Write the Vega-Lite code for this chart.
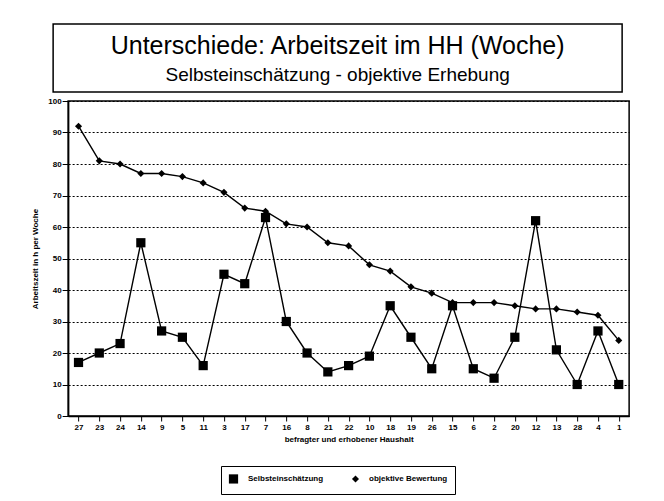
{
  "$schema": "https://vega.github.io/schema/vega-lite/v6.json",
  "padding": {"left": 31, "top": 23, "right": 5, "bottom": 5},
  "background": "white",
  "config": {
    "font": "Liberation Sans",
    "view": {"stroke": "black", "strokeWidth": 1.5},
    "axis": {"labelFont": "Liberation Sans", "titleFont": "Liberation Sans", "labelColor": "black", "titleColor": "black", "domainColor": "black", "tickColor": "black"},
    "legend": {"labelFont": "Liberation Sans", "layout": {"bottom": {"anchor": "middle"}}}
  },
  "center": true,
  "vconcat": [
    {
      "width": 569,
      "height": 68,
      "data": {"values": [
        {"zeile": "1", "text": "Unterschiede: Arbeitszeit im HH (Woche)"},
        {"zeile": "2", "text": "Selbsteinschätzung - objektive Erhebung"}
      ]},
      "encoding": {
        "y": {"field": "zeile", "type": "ordinal", "scale": {"type": "point", "domain": ["1", "2"], "padding": 0.672, "align": 0.564},
          "axis": {"orient": "right", "title": null, "labels": false, "ticks": false, "grid": false, "domain": true, "domainOpacity": 0, "offset": 22}},
        "text": {"field": "text"}
      },
      "layer": [
        {"transform": [{"filter": "datum.zeile == '1'"}], "mark": {"type": "text", "baseline": "middle", "align": "center", "color": "black", "fontSize": 25}},
        {"transform": [{"filter": "datum.zeile == '2'"}], "mark": {"type": "text", "baseline": "middle", "align": "center", "color": "black", "fontSize": 19}}
      ]
    },
    {
      "width": 561,
      "height": 315,
      "data": {"values": [
        {"haushalt": "27", "serie": "Selbsteinschätzung", "stunden": 17},
        {"haushalt": "23", "serie": "Selbsteinschätzung", "stunden": 20},
        {"haushalt": "24", "serie": "Selbsteinschätzung", "stunden": 23},
        {"haushalt": "14", "serie": "Selbsteinschätzung", "stunden": 55},
        {"haushalt": "9", "serie": "Selbsteinschätzung", "stunden": 27},
        {"haushalt": "5", "serie": "Selbsteinschätzung", "stunden": 25},
        {"haushalt": "11", "serie": "Selbsteinschätzung", "stunden": 16},
        {"haushalt": "3", "serie": "Selbsteinschätzung", "stunden": 45},
        {"haushalt": "17", "serie": "Selbsteinschätzung", "stunden": 42},
        {"haushalt": "7", "serie": "Selbsteinschätzung", "stunden": 63},
        {"haushalt": "16", "serie": "Selbsteinschätzung", "stunden": 30},
        {"haushalt": "8", "serie": "Selbsteinschätzung", "stunden": 20},
        {"haushalt": "21", "serie": "Selbsteinschätzung", "stunden": 14},
        {"haushalt": "22", "serie": "Selbsteinschätzung", "stunden": 16},
        {"haushalt": "10", "serie": "Selbsteinschätzung", "stunden": 19},
        {"haushalt": "18", "serie": "Selbsteinschätzung", "stunden": 35},
        {"haushalt": "19", "serie": "Selbsteinschätzung", "stunden": 25},
        {"haushalt": "26", "serie": "Selbsteinschätzung", "stunden": 15},
        {"haushalt": "15", "serie": "Selbsteinschätzung", "stunden": 35},
        {"haushalt": "6", "serie": "Selbsteinschätzung", "stunden": 15},
        {"haushalt": "2", "serie": "Selbsteinschätzung", "stunden": 12},
        {"haushalt": "20", "serie": "Selbsteinschätzung", "stunden": 25},
        {"haushalt": "12", "serie": "Selbsteinschätzung", "stunden": 62},
        {"haushalt": "13", "serie": "Selbsteinschätzung", "stunden": 21},
        {"haushalt": "28", "serie": "Selbsteinschätzung", "stunden": 10},
        {"haushalt": "4", "serie": "Selbsteinschätzung", "stunden": 27},
        {"haushalt": "1", "serie": "Selbsteinschätzung", "stunden": 10},
        {"haushalt": "27", "serie": "objektive Bewertung", "stunden": 92},
        {"haushalt": "23", "serie": "objektive Bewertung", "stunden": 81},
        {"haushalt": "24", "serie": "objektive Bewertung", "stunden": 80},
        {"haushalt": "14", "serie": "objektive Bewertung", "stunden": 77},
        {"haushalt": "9", "serie": "objektive Bewertung", "stunden": 77},
        {"haushalt": "5", "serie": "objektive Bewertung", "stunden": 76},
        {"haushalt": "11", "serie": "objektive Bewertung", "stunden": 74},
        {"haushalt": "3", "serie": "objektive Bewertung", "stunden": 71},
        {"haushalt": "17", "serie": "objektive Bewertung", "stunden": 66},
        {"haushalt": "7", "serie": "objektive Bewertung", "stunden": 65},
        {"haushalt": "16", "serie": "objektive Bewertung", "stunden": 61},
        {"haushalt": "8", "serie": "objektive Bewertung", "stunden": 60},
        {"haushalt": "21", "serie": "objektive Bewertung", "stunden": 55},
        {"haushalt": "22", "serie": "objektive Bewertung", "stunden": 54},
        {"haushalt": "10", "serie": "objektive Bewertung", "stunden": 48},
        {"haushalt": "18", "serie": "objektive Bewertung", "stunden": 46},
        {"haushalt": "19", "serie": "objektive Bewertung", "stunden": 41},
        {"haushalt": "26", "serie": "objektive Bewertung", "stunden": 39},
        {"haushalt": "15", "serie": "objektive Bewertung", "stunden": 36},
        {"haushalt": "6", "serie": "objektive Bewertung", "stunden": 36},
        {"haushalt": "2", "serie": "objektive Bewertung", "stunden": 36},
        {"haushalt": "20", "serie": "objektive Bewertung", "stunden": 35},
        {"haushalt": "12", "serie": "objektive Bewertung", "stunden": 34},
        {"haushalt": "13", "serie": "objektive Bewertung", "stunden": 34},
        {"haushalt": "28", "serie": "objektive Bewertung", "stunden": 33},
        {"haushalt": "4", "serie": "objektive Bewertung", "stunden": 32},
        {"haushalt": "1", "serie": "objektive Bewertung", "stunden": 24}
      ]},
      "encoding": {
        "x": {
          "field": "haushalt", "type": "ordinal",
          "sort": ["27","23","24","14","9","5","11","3","17","7","16","8","21","22","10","18","19","26","15","6","2","20","12","13","28","4","1"],
          "title": "befragter und erhobener Haushalt",
          "axis": {"labelAngle": 0, "labelFontSize": 8, "labelFontWeight": "bold", "tickSize": 5, "labelPadding": 2, "titleFontSize": 8, "titleFontWeight": "bold", "titlePadding": 4, "domainWidth": 1.5, "grid": false}
        },
        "y": {
          "field": "stunden", "type": "quantitative",
          "scale": {"domain": [0, 100], "nice": false},
          "title": "Arbeitszeit in h per Woche",
          "axis": {"values": [0,10,20,30,40,50,60,70,80,90,100], "labelFontSize": 8, "labelFontWeight": "bold", "tickSize": 6, "labelPadding": 1, "titleFontSize": 8, "titleFontWeight": "bold", "titlePadding": 8, "domainWidth": 1.5, "grid": true, "gridColor": "black", "gridDash": [2, 2], "gridOpacity": 1, "gridWidth": 1}
        }
      },
      "layer": [
        {
          "mark": {"type": "line", "color": "black", "strokeWidth": 1.4},
          "encoding": {"detail": {"field": "serie"}}
        },
        {
          "mark": {"type": "point", "filled": true, "color": "black", "opacity": 1},
          "encoding": {
            "shape": {
              "field": "serie", "type": "nominal",
              "scale": {"domain": ["Selbsteinschätzung", "objektive Bewertung"], "range": ["square", "diamond"]},
              "legend": {"orient": "bottom", "direction": "horizontal", "title": null, "strokeColor": "black", "padding": 7, "offset": 22, "labelFontSize": 8, "labelFontWeight": "bold", "symbolFillColor": "black", "symbolStrokeColor": "black", "symbolOpacity": 1, "columnPadding": 24, "labelOffset": 9}
            },
            "size": {
              "field": "serie", "type": "nominal",
              "scale": {"domain": ["Selbsteinschätzung", "objektive Bewertung"], "range": [85, 50]},
              "legend": {"orient": "bottom", "direction": "horizontal", "title": null, "strokeColor": "black", "padding": 7, "offset": 22, "labelFontSize": 8, "labelFontWeight": "bold", "symbolFillColor": "black", "symbolStrokeColor": "black", "symbolOpacity": 1, "columnPadding": 24, "labelOffset": 9}
            }
          }
        }
      ]
    }
  ],
  "spacing": 3
}
